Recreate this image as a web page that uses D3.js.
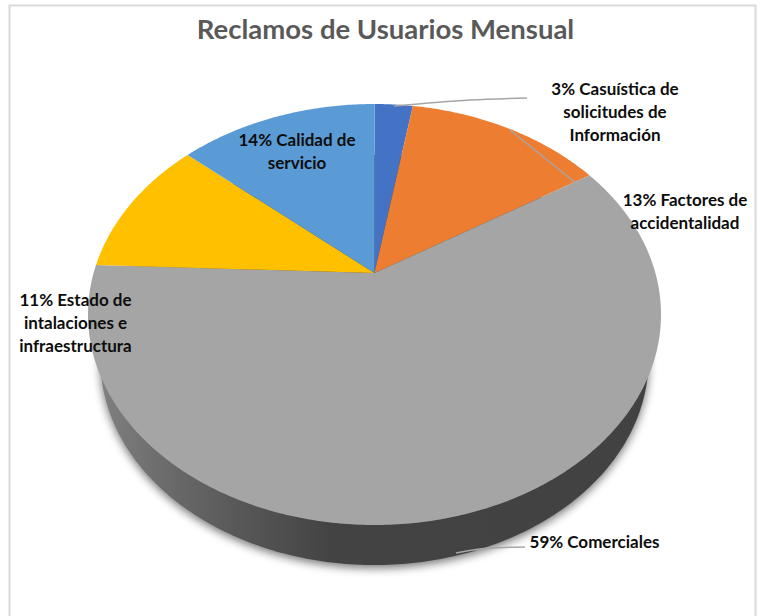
<!DOCTYPE html>
<html><head><meta charset="utf-8">
<script src="https://cdn.jsdelivr.net/npm/d3@7"></script>
<style>html,body{margin:0;padding:0;background:#fff}svg{display:block}text{font-family:Lato,"Open Sans",sans-serif}</style>
</head><body><svg id="c" width="760" height="616"></svg>
<script>
const title = "Reclamos de Usuarios Mensual";
const categories = ["Casuística de solicitudes de Información","Factores de accidentalidad","Comerciales","Estado de intalaciones e infraestructura","Calidad de servicio"];
const shares = [2.6, 13.4, 59.4, 10.8, 13.5];
const colors = ["#4472c4","#ed7d31","#a5a5a5","#ffc000","#5b9bd5"];
const labelLines = [
  ["3% Casuística de","solicitudes de","Información"],
  ["13% Factores de","accidentalidad"],
  ["59% Comerciales"],
  ["11% Estado de","intalaciones e","infraestructura"],
  ["14% Calidad de","servicio"]
];
const labelAnchors = [[615,95],[685,206],[594.5,548],[75.5,306],[297,146]];
const leaders = [
  [[394,106],[470,100],[527,98]],
  [[510,130],[577,184]],
  [[456,553],[490,548],[525,547]]
];

const svg = d3.select("#c");
const cx = 374.5, cy = 314.5, rx = 286.5, ry = 210.5, apexY = 273;
const baseCy = 360, baseRx = 274, baseRy = 205;
const t = (apexY - cy) / ry;

// perspective projection of a tilted disc: centre goes to the apex
function project(a) {
  const u = Math.sin(a), v = -Math.cos(a);
  const d = 1 + t * v;
  return [cx + rx * u * Math.sqrt(1 - t * t) / d, cy + ry * (v + t) / d];
}
const pie = d3.pie().sort(null).value(d => d);
const arcs = pie(shares);
const line = d3.line();

const defs = svg.append("defs");
const f = defs.append("filter").attr("id","sh").attr("x","-10%").attr("y","-10%").attr("width","120%").attr("height","120%");
f.append("feGaussianBlur").attr("stdDeviation",5);
const g = defs.append("linearGradient").attr("id","wall").attr("gradientUnits","userSpaceOnUse")
  .attr("x1",cx-baseRx).attr("x2",cx+baseRx).attr("y1",0).attr("y2",0);
[[0,"#808080"],[0.1,"#6e6e6e"],[0.25,"#585858"],[0.42,"#434343"],[1,"#424242"]].forEach(s =>
  g.append("stop").attr("offset",s[0]).attr("stop-color",s[1]));

// frame
svg.append("path").attr("d","M9.5,616V5.5H755.5V616").attr("fill","none").attr("stroke","#d9d9d9").attr("stroke-width",2);

// body of the disc: the far rim is a smaller ellipse under the top face
const base = d3.range(0, 360, 1).map(d => {
  const a = d * Math.PI / 180;
  return [cx + baseRx * Math.sin(a), baseCy - baseRy * Math.cos(a)];
});
const basePath = line(base) + "Z";
svg.append("path").attr("d", basePath).attr("fill","#000").attr("opacity",0.55).attr("filter","url(#sh)").attr("transform","translate(0,3)");
svg.append("path").attr("d", basePath).attr("fill","url(#wall)");

// top face
svg.selectAll("path.slice").data(arcs).join("path").attr("class","slice")
  .attr("fill",(d,i)=>colors[i])
  .attr("d", d => {
    const n = Math.ceil((d.endAngle - d.startAngle) * 90);
    const pts = d3.range(n + 1).map(i => project(d.startAngle + (d.endAngle - d.startAngle) * i / n));
    return line([[cx, apexY]].concat(pts)) + "Z";
  });

// leaders
svg.selectAll("path.leader").data(leaders).join("path").attr("class","leader")
  .attr("d", d3.line().curve(d3.curveMonotoneX)).attr("fill","none").attr("stroke","#a6a6a6").attr("stroke-width",1.5);

// title
svg.append("text").attr("x",385.5).attr("y",39).attr("text-anchor","middle")
  .attr("font-size",27.5).attr("font-weight",700).attr("fill","#595959").text(title);

// labels
labelLines.forEach((ls,i) => {
  const tx = svg.append("text").attr("text-anchor","middle").attr("font-size",17).attr("font-weight",700).attr("fill","#0d0d0d");
  ls.forEach((s,j) => tx.append("tspan").attr("x",labelAnchors[i][0]).attr("y",labelAnchors[i][1] + j*23).text(s));
});
</script></body></html>
